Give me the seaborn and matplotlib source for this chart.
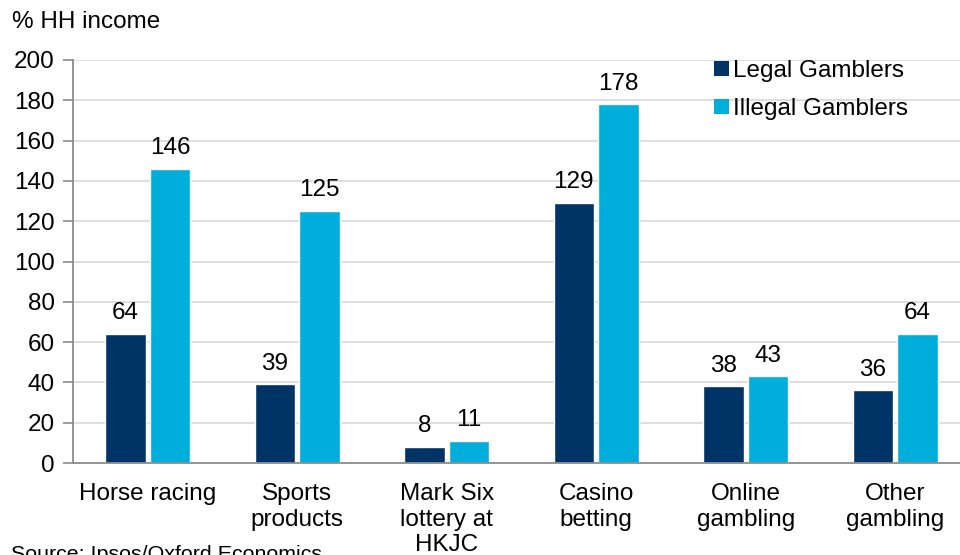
import matplotlib
matplotlib.use("Agg")
import matplotlib.pyplot as plt
import seaborn as sns
import pandas as pd
from matplotlib.patches import Patch

categories = ["Horse racing", "Sports\nproducts", "Mark Six\nlottery at\nHKJC",
              "Casino\nbetting", "Online\ngambling", "Other\ngambling"]
series_names = ["Legal Gamblers", "Illegal Gamblers"]
legal = [64, 39, 8, 129, 38, 36]
illegal = [146, 125, 11, 178, 43, 64]
y_ticks = [0, 20, 40, 60, 80, 100, 120, 140, 160, 180, 200]
colors = ["#003466", "#00AEDB"]

df = pd.DataFrame({
    "category": categories * 2,
    "group": [series_names[0]] * len(categories) + [series_names[1]] * len(categories),
    "value": legal + illegal,
})

sns.set_theme(style="white")
plt.rcParams["font.family"] = ["Liberation Sans", "DejaVu Sans"]
plt.rcParams["text.color"] = "#000000"

FS = 17.5
fig = plt.figure(figsize=(9.6, 5.55), dpi=100)
W, H = 960, 555
x0, x1, ytop, ybot = 73, 970, 60, 463
ax = fig.add_axes([x0 / W, (H - ybot) / H, (x1 - x0) / W, (ybot - ytop) / H])

sns.barplot(data=df, x="category", y="value", hue="group", order=categories,
            hue_order=series_names, palette=colors, width=0.6, gap=0.1,
            saturation=1, ax=ax, legend=False)

for cont in ax.containers:
    ax.bar_label(cont, fmt="%d", padding=7, fontsize=FS, color="#000000")

ax.set_ylim(0, 200)
ax.set_xlim(-0.5, len(categories) - 0.5)
ax.set_yticks(y_ticks)
ax.set_yticklabels([str(t) for t in y_ticks], fontsize=FS, color="#000000")
ax.set_xticklabels(categories, fontsize=FS, color="#000000", linespacing=1.2)
ax.set_xlabel("")
ax.set_ylabel("")

ax.yaxis.grid(True, color="#D9D9D9", linewidth=1.2)
ax.set_axisbelow(True)
for s in ["top", "right"]:
    ax.spines[s].set_visible(False)
for s in ["left", "bottom"]:
    ax.spines[s].set_color("#8C8C8C")
    ax.spines[s].set_linewidth(1.3)
ax.tick_params(axis="y", which="both", left=True, length=7, width=1.2,
               color="#8C8C8C", pad=6)
ax.tick_params(axis="x", which="both", bottom=False, pad=8.5)

handles = [Patch(facecolor=c, edgecolor="none") for c in colors]
ax.legend(handles, series_names, loc="upper left",
          bbox_to_anchor=(714 / W, 1 - 60 / H), bbox_transform=fig.transFigure,
          frameon=False, fontsize=FS, handlelength=0.6, handleheight=0.6,
          handletextpad=0.2, labelspacing=0.65, borderpad=0, borderaxespad=0)

fig.text(12 / W, 1 - 22 / H, "% HH income", fontsize=FS, va="center", ha="left")
fig.text(11 / W, 1 - 545 / H, "Source: Ipsos/Oxford Economics", fontsize=15.4,
         va="top", ha="left")

fig.savefig("out.png", dpi=100)
